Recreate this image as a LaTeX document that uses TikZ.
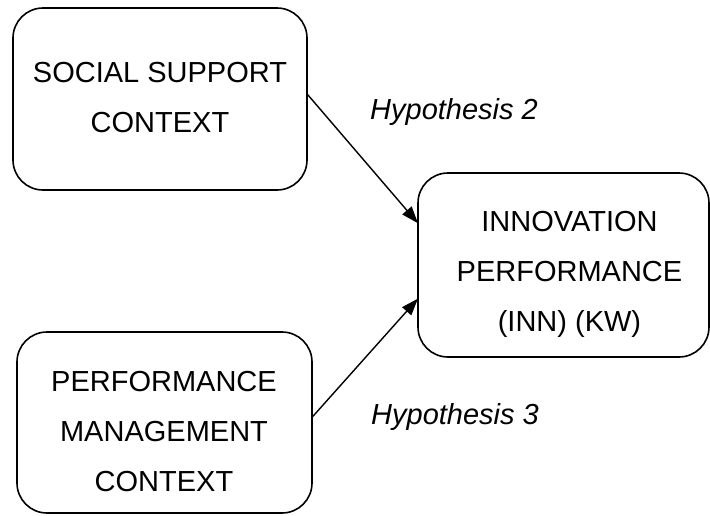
\documentclass[tikz,border=0pt]{standalone}
\usepackage{fontspec}
\setmainfont{Liberation Sans}
\usetikzlibrary{arrows.meta}

\begin{document}
\begin{tikzpicture}[x=1pt, y=-1pt,
  ctxbox/.style={draw, line width=1.6pt, rounded corners=30pt,
    inner sep=0pt, outer sep=0pt},
  boxtext/.style={inner sep=0pt, align=center, anchor=north,
    font=\fontsize{29pt}{50pt}\selectfont},
  hyplabel/.style={inner sep=0pt, anchor=base west,
    font=\fontsize{29pt}{35pt}\selectfont\itshape},
  link/.style={line width=1.4pt, -{Triangle[length=17pt, width=12pt]}}]

  \useasboundingbox (0,0) rectangle (710,515);

  % the three construct boxes
  \node[ctxbox, minimum width=294pt, minimum height=182pt] (soc) at (160,99) {};
  \node[ctxbox, minimum width=291pt, minimum height=184pt] (inn) at (563.5,265) {};
  \node[ctxbox, minimum width=295pt, minimum height=181pt] (pmc) at (164.5,422.5) {};

  % their texts
  \node[boxtext] (soct) at (160,62) {SOCIAL SUPPORT\\CONTEXT};
  \node[boxtext] (innt) at (569.5,211) {INNOVATION\\PERFORMANCE\\(INN) (KW)};
  \node[boxtext] (pmct) at (164,371) {PERFORMANCE\\MANAGEMENT\\CONTEXT};

  % hypothesised effects
  \draw[link] (soc.2.3) -- (inn.164.6);
  \draw[link] (pmc.2.1) -- (inn.193.5);

  \node[hyplabel] (h2) at (370,119) {Hypothesis 2};
  \node[hyplabel] (h3) at (371,424) {Hypothesis 3};
\end{tikzpicture}
\end{document}
